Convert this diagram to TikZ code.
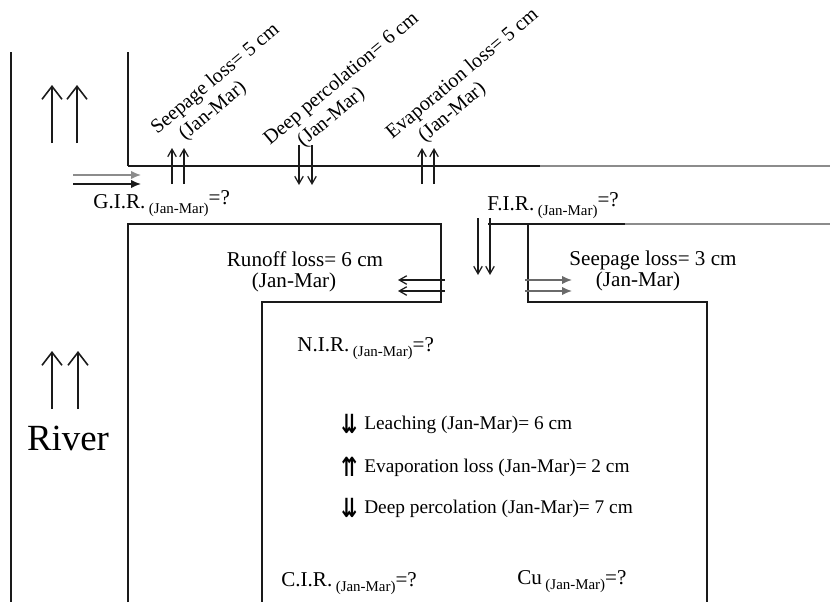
\documentclass[tikz,border=0pt]{standalone}
\usepackage{fontspec}
\setmainfont{Liberation Serif}
\newfontfamily\symfont{DejaVu Sans}
\usetikzlibrary{arrows.meta}
\definecolor{ink}{HTML}{1A1A1A}
\definecolor{faded}{HTML}{8C8C8C}
\newcommand{\jm}{\,\raisebox{-3pt}{\fontsize{8.5}{9}\selectfont(Jan-Mar)}}
\newcommand{\dbl}[1]{\raisebox{-2.5pt}{\scalebox{0.72}[1]{\fontsize{15}{15}\selectfont\symfont\bfseries #1}}\hspace{4pt}}
\tikzset{
  wall/.style    ={draw=ink, line width=1pt},
  fadewall/.style={draw=faded, line width=1.4pt},
  flux/.style    ={-{Straight Barb[length=1.5mm,width=1.7mm]}, ink, line width=0.7pt},
  inflow/.style  ={-{Latex[length=2mm,width=1.7mm]}, ink, line width=0.9pt},
  riverflow/.style={-{Straight Barb[length=2.6mm,width=4mm]}, ink, line width=0.9pt},
  lbl/.style     ={font=\fontsize{12}{12}\selectfont, inner sep=0pt},
  slant/.style   ={font=\fontsize{11.5}{13}\selectfont, rotate=40, inner sep=0pt, align=left},
  item/.style    ={font=\fontsize{11}{13}\selectfont, anchor=base west, inner sep=0pt},
}
\begin{document}
\begin{tikzpicture}[x=0.02cm, y=-0.02cm]
  \useasboundingbox (0,0) rectangle (830,602);
  % river
  \draw[wall] (11,52) -- (11,602);
  \draw[wall] (128,52) -- (128,166);
  \draw[riverflow] (52,143) -- (52,85);
  \draw[riverflow] (77,143) -- (77,85);
  \draw[riverflow] (52,409) -- (52,351);
  \draw[riverflow] (78,409) -- (78,351);
  \node[font=\fontsize{21}{24}\selectfont, inner sep=0pt] (river) at (68,438) {River};
  % main canal
  \draw[wall] (128,166) -- (540,166);
  \draw[fadewall] (540,166) -- (830,166);
  \draw[wall] (128,602) -- (128,224) -- (441,224) -- (441,302) -- (262,302) -- (262,602);
  \draw[wall] (488,224) -- (625,224);
  \draw[fadewall] (625,224) -- (830,224);
  \draw[wall] (528,224) -- (528,302) -- (707,302) -- (707,602);
  \draw[inflow, faded] (73,175) -- (141,175);
  \draw[inflow] (73,184) -- (141,184);
  \node[lbl, anchor=base west] (gir) at (93,208) {G.I.R.\jm\raisebox{2pt}{=?}};
  % losses along the canal
  \draw[flux] (172,184) -- (172,148);
  \draw[flux] (184,184) -- (184,148);
  \draw[flux] (299,145) -- (299,185);
  \draw[flux] (312,145) -- (312,185);
  \draw[flux] (422,184) -- (422,148);
  \draw[flux] (434,184) -- (434,148);
  \node[slant] (seepcan) at (223,88) {Seepage loss= 5 cm\\\hspace*{9.7pt}(Jan-Mar)};
  \node[slant] (perccan) at (349,88) {Deep percolation= 6 cm\\\hspace*{14pt}(Jan-Mar)};
  \node[slant] (evapcan) at (470,83) {Evaporation loss= 5 cm\\\hspace*{13pt}(Jan-Mar)};
  % field channel
  \draw[flux] (478,218) -- (478,275);
  \draw[flux] (490,218) -- (490,275);
  \node[lbl, anchor=base west] (fir) at (487,210) {F.I.R.\jm\raisebox{2pt}{=?}};
  \draw[flux] (445,280) -- (398,280);
  \draw[flux] (445,291) -- (398,291);
  \node[lbl, align=center] (runoff) at (305,272) {Runoff loss= 6 cm\\(Jan-Mar)\hspace*{12.5pt}};
  \draw[inflow, faded!70!ink] (525,280) -- (572,280);
  \draw[inflow, faded!70!ink] (525,291) -- (572,291);
  \node[lbl, align=center] (seepch) at (653,271) {Seepage loss= 3 cm\\(Jan-Mar)\hspace*{17pt}};
  % field
  \node[lbl, anchor=base west] (nir) at (297,351) {N.I.R.\jm=?};
  \node[item] (leach) at (341,429) {\dbl{⇊}Leaching (Jan-Mar)= 6 cm};
  \node[item] (evapf) at (341,472) {\dbl{⇈}Evaporation loss (Jan-Mar)= 2 cm};
  \node[item] (percf) at (341,513) {\dbl{⇊}Deep percolation (Jan-Mar)= 7 cm};
  \node[lbl, anchor=base west] (cir) at (281,586) {C.I.R.\jm=?};
  \node[lbl, anchor=base west] (cu) at (517,584) {Cu\jm=?};
\end{tikzpicture}
\end{document}
